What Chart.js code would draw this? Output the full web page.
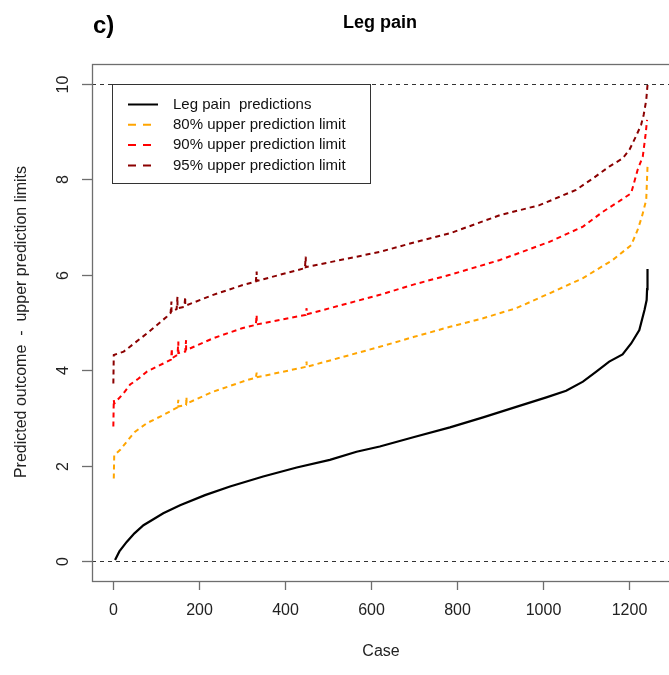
<!DOCTYPE html>
<html>
<head>
<meta charset="utf-8">
<script src="https://cdn.jsdelivr.net/npm/chart.js@4"></script>
<style>
  body { margin: 0; background: #fff; }
  canvas { display: block; }
</style>
</head>
<body>
<canvas id="graphCanvas" width="669" height="675"></canvas>
<script>
// Values (case number, predicted value)
const predCase = [5, 15, 32, 50, 71, 95, 117, 156, 214, 272, 349, 427, 504, 566, 620, 700, 783, 860, 937, 1007, 1053, 1092, 1123, 1153, 1184, 1204, 1223, 1235, 1240, 1241, 1242];
const predValue = [0.02, 0.2, 0.40, 0.58, 0.75, 0.88, 1.0, 1.17, 1.38, 1.56, 1.77, 1.96, 2.12, 2.29, 2.40, 2.60, 2.80, 3.01, 3.23, 3.43, 3.57, 3.76, 3.97, 4.18, 4.33, 4.56, 4.84, 5.26, 5.47, 5.70, 6.12];

const up80Case = [2, 3, 17, 32, 50, 79, 117, 150, 152, 152, 170, 171, 171, 233, 311, 332, 334, 334, 448, 450, 450, 620, 700, 783, 860, 937, 1014, 1092, 1161, 1204, 1219, 1229, 1239, 1242];
const up80Value = [1.73, 2.22, 2.33, 2.50, 2.70, 2.89, 3.06, 3.22, 3.38, 3.24, 3.27, 3.44, 3.30, 3.55, 3.79, 3.84, 3.95, 3.85, 4.07, 4.18, 4.07, 4.49, 4.70, 4.91, 5.09, 5.30, 5.61, 5.93, 6.31, 6.62, 6.94, 7.22, 7.57, 8.27];

const up90Case = [1, 2, 3, 25, 40, 59, 79, 117, 135, 137, 137, 150, 152, 152, 168, 170, 170, 233, 300, 332, 334, 334, 448, 450, 450, 620, 700, 783, 899, 1014, 1092, 1138, 1181, 1204, 1219, 1231, 1237, 1241];
const up90Value = [2.82, 3.38, 3.30, 3.52, 3.70, 3.82, 3.97, 4.14, 4.22, 4.46, 4.25, 4.32, 4.60, 4.36, 4.39, 4.63, 4.42, 4.67, 4.88, 4.95, 5.16, 4.96, 5.16, 5.30, 5.17, 5.58, 5.80, 6.00, 6.31, 6.69, 7.01, 7.32, 7.57, 7.71, 8.20, 8.48, 8.90, 9.25];

const up95Case = [1, 2, 25, 79, 125, 134, 136, 136, 148, 150, 150, 166, 168, 168, 233, 300, 332, 334, 334, 446, 448, 448, 620, 700, 783, 899, 991, 1076, 1115, 1153, 1184, 1200, 1215, 1227, 1233, 1239, 1242];
const up95Value = [3.72, 4.32, 4.39, 4.77, 5.12, 5.20, 5.44, 5.22, 5.28, 5.54, 5.30, 5.33, 5.54, 5.35, 5.58, 5.78, 5.86, 6.07, 5.87, 6.14, 6.38, 6.16, 6.48, 6.68, 6.87, 7.25, 7.46, 7.78, 8.02, 8.27, 8.44, 8.62, 8.90, 9.14, 9.35, 9.66, 9.98];

const xTicks = [0, 200, 400, 600, 800, 1000, 1200];
const yTicks = [0, 2, 4, 6, 8, 10];
const refLines = [0, 10];

const FONT = '"Liberation Sans", Arial, sans-serif';

function pairs(xs, ys) {
    return xs.map((x, i) => ({ x: x, y: ys[i] }));
}

// Box, ticks, reference lines, titles and legend in R style
const rFrame = {
    id: 'rFrame',
    beforeDatasetsDraw(chart) {
        const c = chart.ctx;
        const ys = chart.scales.y;
        const a = chart.chartArea;
        c.save();
        c.strokeStyle = '#333';
        c.lineWidth = 1;
        c.setLineDash([4, 4]);
        refLines.forEach(v => {
            const py = Math.round(ys.getPixelForValue(v)) + 0.5;
            c.beginPath();
            c.moveTo(a.left, py);
            c.lineTo(a.right + 2, py);
            c.stroke();
        });
        c.restore();
    },
    afterDatasetsDraw(chart) {
        const c = chart.ctx;
        const xs = chart.scales.x, ys = chart.scales.y;
        const a = chart.chartArea;
        c.save();
        // frame
        c.strokeStyle = '#6e6e6e';
        c.lineWidth = 1.3;
        c.strokeRect(a.left + 0.5, a.top + 0.5, a.right - a.left + 10, a.bottom - a.top);

        // x ticks
        c.fillStyle = '#222';
        c.font = '16px ' + FONT;
        c.textAlign = 'center';
        c.textBaseline = 'middle';
        xTicks.forEach(v => {
            const px = Math.round(xs.getPixelForValue(v)) + 0.5;
            c.beginPath();
            c.moveTo(px, a.bottom);
            c.lineTo(px, a.bottom + 9);
            c.stroke();
            c.fillText(String(v), px, 611);
        });
        // y ticks, labels turned like R
        yTicks.forEach(v => {
            const py = Math.round(ys.getPixelForValue(v)) + 0.5;
            c.beginPath();
            c.moveTo(a.left - 10, py);
            c.lineTo(a.left, py);
            c.stroke();
            c.save();
            c.translate(64, py);
            c.rotate(-Math.PI / 2);
            c.fillText(String(v), 0, 0);
            c.restore();
        });

        // axis titles
        c.fillText('Case', 381, 652);
        c.save();
        c.translate(22, 322);
        c.rotate(-Math.PI / 2);
        c.fillText('Predicted outcome  -  upper prediction limits', 0, 0);
        c.restore();

        // main title and panel letter
        c.fillStyle = '#000';
        c.font = 'bold 18px ' + FONT;
        c.fillText('Leg pain', 380, 23);
        c.font = 'bold 24px ' + FONT;
        c.textAlign = 'left';
        c.fillText('c)', 93, 26);

        // legend
        const lx = 112.5, ly = 84.5, lw = 258, lh = 99;
        c.fillStyle = '#fff';
        c.fillRect(lx, ly, lw, lh);
        c.strokeStyle = '#333';
        c.lineWidth = 1;
        c.strokeRect(lx, ly, lw, lh);
        c.font = '15px ' + FONT;
        c.textBaseline = 'middle';
        chart.data.datasets.forEach((ds, i) => {
            const ry = 104.5 + i * 20.3;
            c.strokeStyle = ds.borderColor;
            c.lineWidth = 2;
            c.setLineDash(ds.borderDash ? [8, 7] : []);
            c.beginPath();
            c.moveTo(128, ry);
            c.lineTo(158, ry);
            c.stroke();
            c.setLineDash([]);
            c.fillStyle = '#111';
            c.fillText(ds.label, 173, ry);
        });
        c.restore();
    }
};

const ctx = document.getElementById('graphCanvas').getContext('2d');
const chart = new Chart(ctx, {
    type: 'scatter',
    data: {
        datasets: [
            {
                label: 'Leg pain  predictions',
                data: pairs(predCase, predValue),
                borderColor: '#000000',
                borderWidth: 2.2
            },
            {
                label: '80% upper prediction limit',
                data: pairs(up80Case, up80Value),
                borderColor: '#FFA500',
                borderDash: [5, 4],
                borderWidth: 2
            },
            {
                label: '90% upper prediction limit',
                data: pairs(up90Case, up90Value),
                borderColor: '#FF0000',
                borderDash: [5, 4],
                borderWidth: 2
            },
            {
                label: '95% upper prediction limit',
                data: pairs(up95Case, up95Value),
                borderColor: '#8B0000',
                borderDash: [5, 4],
                borderWidth: 2
            }
        ]
    },
    options: {
        responsive: false,
        animation: false,
        showLine: true,
        layout: {
            padding: { left: 92, top: 64, right: 1, bottom: 94 }
        },
        elements: {
            line: { tension: 0, fill: false },
            point: { radius: 0, hoverRadius: 0 }
        },
        scales: {
            x: { type: 'linear', min: -48.6, max: 1289.6, display: false },
            y: { type: 'linear', min: -0.42, max: 10.42, display: false }
        },
        plugins: {
            legend: { display: false },
            tooltip: { enabled: false },
            title: { display: false }
        }
    },
    plugins: [rFrame]
});
</script>
</body>
</html>
